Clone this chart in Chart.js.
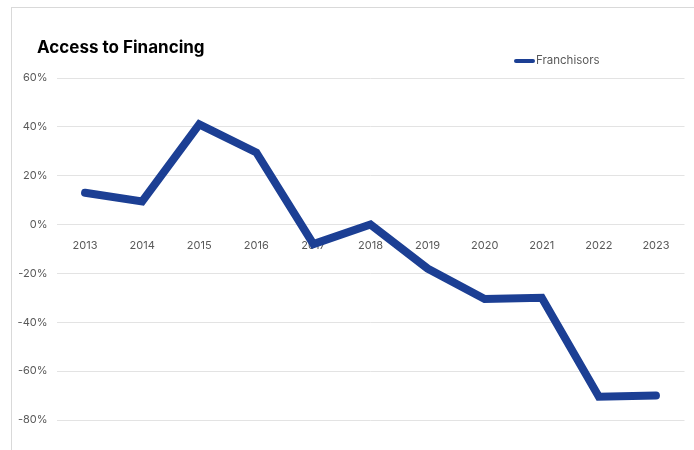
<!DOCTYPE html>
<html>
<head>
<meta charset="utf-8">
<script src="https://cdn.jsdelivr.net/npm/chart.js@4/dist/chart.umd.min.js"></script>
<style>
  html, body { margin: 0; padding: 0; background: #fff; }
  #wrap { position: relative; width: 694px; height: 450px; }
  #frame {
    position: absolute; left: 11px; top: 7px; right: 0; bottom: 0;
    border-left: 1px solid #d9d9d9; border-top: 1px solid #d9d9d9;
  }
  #accessChart { position: absolute; left: 0; top: 0; }
</style>
</head>
<body>
<div id="wrap">
  <div id="frame"></div>
  <canvas id="accessChart" width="694" height="450"></canvas>
</div>
<script>
// Survey results, share of respondents (%)
const chartTitle = 'Access to Financing';
const years = ['2013', '2014', '2015', '2016', '2017', '2018', '2019', '2020', '2021', '2022', '2023'];
const franchisors = [13, 9.5, 41, 29.5, -8, 0, -18, -30.5, -30, -70.5, -70];

// Y axis range
const yMin = -80;
const yMax = 60;
const yStep = 20;

const lineColor = '#1c3f94';
const textGray = '#595959';
const uiFont = 'Inter, "Noto Sans", sans-serif';

// Title on the left and legend on the right, drawn on the canvas
const headerPlugin = {
    id: 'header',
    afterDraw(chart) {
        const ctx = chart.ctx;
        ctx.save();
        ctx.textBaseline = 'middle';
        ctx.fillStyle = '#000';
        ctx.font = 'bold 17px ' + uiFont;
        ctx.fillText(chartTitle, 37, 48);

        const ds = chart.data.datasets[0];
        ctx.strokeStyle = ds.borderColor;
        ctx.lineWidth = 4;
        ctx.lineCap = 'round';
        ctx.beginPath();
        ctx.moveTo(516, 61);
        ctx.lineTo(533, 61);
        ctx.stroke();
        ctx.fillStyle = textGray;
        ctx.font = '11.5px ' + uiFont;
        ctx.fillText(ds.label, 536, 61);
        ctx.restore();
    }
};

const ctx = document.getElementById('accessChart').getContext('2d');

const accessChart = new Chart(ctx, {
    type: 'line',
    data: {
        labels: years,
        datasets: [{
            label: 'Franchisors',
            data: franchisors,
            borderColor: lineColor,
            backgroundColor: lineColor,
            borderWidth: 8,
            borderCapStyle: 'round',
            borderJoinStyle: 'miter',
            pointRadius: 0,
            tension: 0
        }]
    },
    options: {
        responsive: false,
        animation: false,
        layout: {
            padding: { top: 78, right: 9.5, bottom: 30, left: 0 }
        },
        plugins: {
            legend: { display: false },
            title: { display: false },
            tooltip: { enabled: false }
        },
        scales: {
            x: {
                position: { y: 0 },
                offset: true,
                grid: { display: false },
                border: { display: false },
                ticks: {
                    color: textGray,
                    font: { family: uiFont, size: 11 },
                    padding: 7,
                    maxRotation: 0
                }
            },
            y: {
                min: yMin,
                max: yMax,
                afterFit(scale) {
                    scale.width = 56.5;
                },
                grid: {
                    color: '#e3e3e3',
                    lineWidth: 1,
                    drawTicks: false
                },
                border: { display: false },
                ticks: {
                    stepSize: yStep,
                    color: textGray,
                    font: { family: uiFont, size: 11 },
                    padding: 9,
                    callback: value => value + '%'
                }
            }
        }
    },
    plugins: [headerPlugin]
});
</script>
</body>
</html>
